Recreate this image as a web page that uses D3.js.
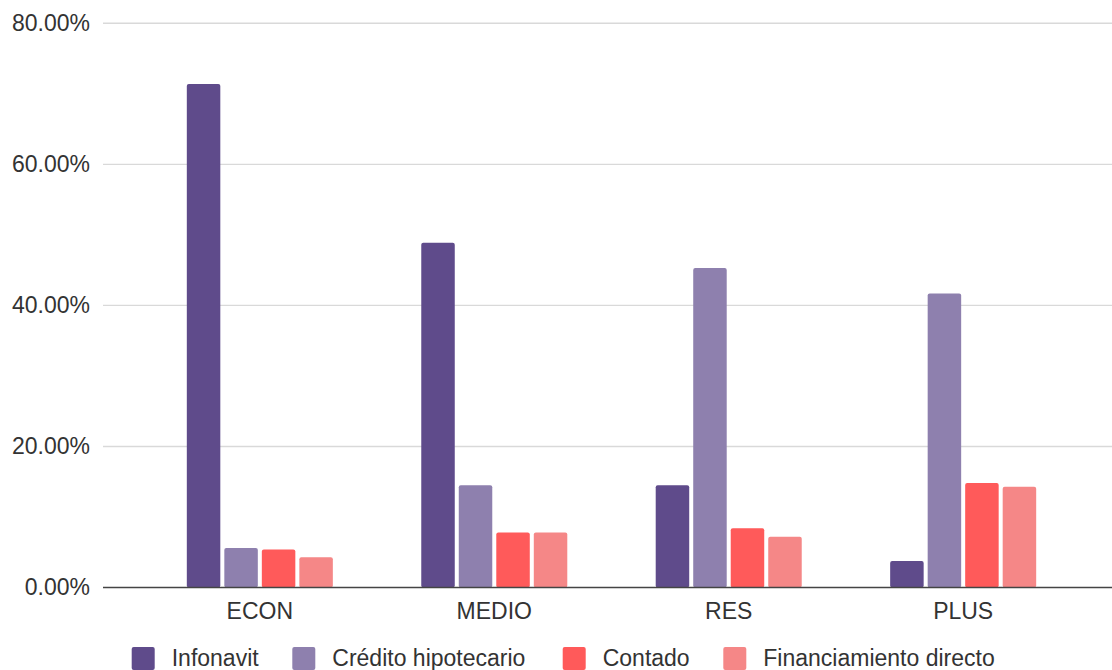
<!DOCTYPE html>
<html>
<head>
<meta charset="utf-8">
<script src="https://cdn.jsdelivr.net/npm/d3@7"></script>
<style>
  html, body { margin: 0; padding: 0; background: #fff; }
  svg { display: block; }
  text { font-family: "Liberation Sans", Arial, sans-serif; fill: #333; }
</style>
</head>
<body>
<svg id="chart" width="1112" height="670"></svg>
<script>
// Market segments along the x axis
const categories = ["ECON", "MEDIO", "RES", "PLUS"];

// Share of purchases by financing method (percent)
const seriesNames = ["Infonavit", "Crédito hipotecario", "Contado", "Financiamiento directo"];
const infonavit = [71.4, 48.9, 14.5, 3.75];
const creditoHipotecario = [5.6, 14.5, 45.3, 41.7];
const contado = [5.4, 7.8, 8.4, 14.8];
const financiamientoDirecto = [4.3, 7.8, 7.2, 14.3];
const seriesValues = [infonavit, creditoHipotecario, contado, financiamientoDirecto];
const seriesColors = ["#5f4b8b", "#8e80ae", "#ff5a5a", "#f58787"];

// Y axis ticks
const yTicks = [0, 20, 40, 60, 80];

const svg = d3.select("#chart");
const gridLeft = 103, gridRight = 1112;

const y = d3.scaleLinear().domain([0, 80]).range([587.5, 23.3]);
const x0 = d3.scaleBand().domain(categories).range([142.6, 1080.4]).paddingInner(0).paddingOuter(0);
const x1 = d3.scaleBand().domain(seriesNames).range([-75, 75]).paddingInner(0.107).paddingOuter(0.053);

// Gridlines
svg.append("g").selectAll("line")
  .data(yTicks.filter(d => d !== 0))
  .join("line")
  .attr("x1", gridLeft).attr("x2", gridRight)
  .attr("y1", d => y(d)).attr("y2", d => y(d))
  .attr("stroke", "#d9d9d9").attr("stroke-width", 1.4);

// Y axis labels
const yAxis = d3.axisLeft(y).tickValues(yTicks).tickSize(0).tickPadding(0)
  .tickFormat(d => d3.format(".2f")(d) + "%");
const gy = svg.append("g").attr("transform", "translate(90,0)").call(yAxis);
gy.select(".domain").remove();
gy.selectAll("text").attr("font-size", 23).attr("fill", "#333")
  .attr("font-family", "'Liberation Sans', Arial, sans-serif");

// Bars
const groups = svg.append("g").selectAll("g")
  .data(categories)
  .join("g")
  .attr("transform", d => `translate(${x0(d) + x0.bandwidth() / 2},0)`);

groups.selectAll("rect")
  .data((cat, i) => seriesNames.map((s, k) => ({ s, v: seriesValues[k][i], k })))
  .join("rect")
  .attr("x", d => x1(d.s))
  .attr("width", x1.bandwidth())
  .attr("y", d => y(d.v))
  .attr("height", d => y(0) - y(d.v))
  .attr("rx", 2).attr("ry", 2)
  .attr("fill", d => seriesColors[d.k]);

// Baseline
svg.append("line")
  .attr("x1", gridLeft).attr("x2", gridRight)
  .attr("y1", y(0)).attr("y2", y(0))
  .attr("stroke", "#444").attr("stroke-width", 1.6);

// X axis labels
const xAxis = d3.axisBottom(x0).tickSize(0).tickPadding(0);
const gx = svg.append("g").attr("transform", `translate(0,${y(0)})`).call(xAxis);
gx.select(".domain").remove();
gx.selectAll("text").attr("font-size", 23).attr("fill", "#333")
  .attr("font-family", "'Liberation Sans', Arial, sans-serif")
  .attr("dy", null).attr("y", 31);

// Legend
const legendX = [131.7, 292.3, 562.7, 723.3];
const legend = svg.append("g").selectAll("g")
  .data(seriesNames)
  .join("g")
  .attr("transform", (d, i) => `translate(${legendX[i]},0)`);
legend.append("rect")
  .attr("x", 0).attr("y", 647).attr("width", 23).attr("height", 23)
  .attr("rx", 2).attr("fill", (d, i) => seriesColors[i]);
legend.append("text")
  .attr("x", 40).attr("y", 666)
  .attr("font-size", 23)
  .text(d => d);
</script>
</body>
</html>
